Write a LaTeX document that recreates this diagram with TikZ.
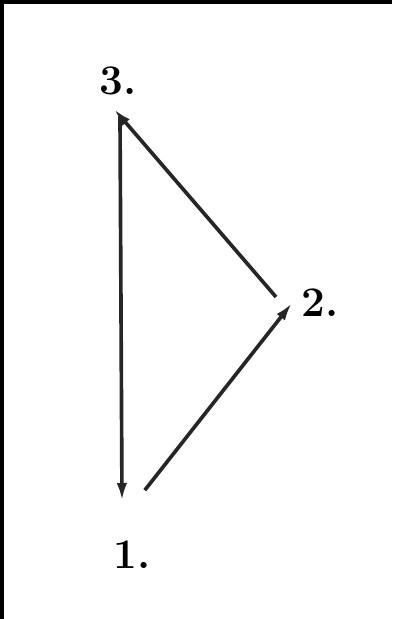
\documentclass[tikz,border=0pt]{standalone}
\usepackage{tikz}
\usetikzlibrary{arrows.meta, positioning}

\begin{document}
\begin{tikzpicture}[
  lbl/.style={font=\fontsize{30}{34}\selectfont\bfseries, inner sep=0pt},
  arrow/.style={-{Latex[length=4.5mm,width=2.6mm]}, line width=2.6pt, color=black!85},
]
  \useasboundingbox (0,0) rectangle (9.8,15.475);
  \fill[white] (0,0) rectangle (9.8,15.475);
  \fill[black] (0,15.375) rectangle (9.8,15.475);
  \fill[black] (0,0) rectangle (0.1,15.475);
  \node[lbl] (l3) at (2.95,13.45) {3.};
  \node[lbl] (l2) at (8.0,7.9) {2.};
  \node[lbl] (l1) at (3.3,1.6) {1.};
  \coordinate (v3) at (2.85,12.75);
  \coordinate (t3) at (3.0,12.55);
  \coordinate (v1) at (3.05,2.95);
  \coordinate (t1) at (3.62,3.22);
  \coordinate (v2) at (7.3,7.9);
  \coordinate (t2) at (6.9,8.05);
  \draw[arrow] (t3) -- (v1);
  \draw[arrow] (t1) -- (v2);
  \draw[arrow] (t2) -- (v3);
\end{tikzpicture}
\end{document}
